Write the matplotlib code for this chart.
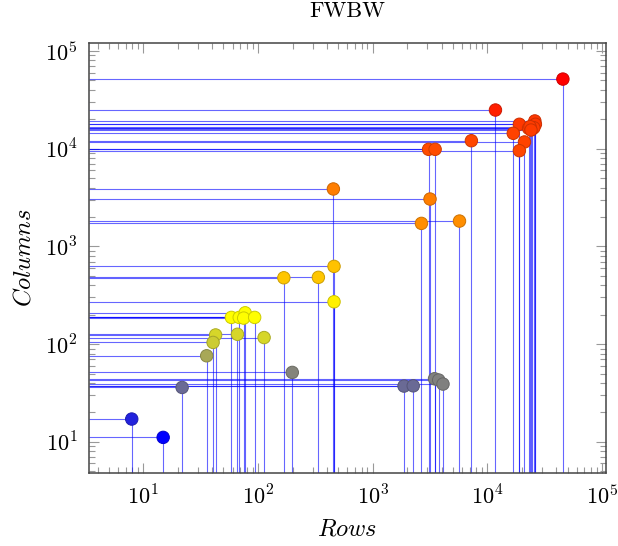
import numpy as np
import matplotlib
matplotlib.use("Agg")
import matplotlib.pyplot as plt
from matplotlib.colors import LinearSegmentedColormap

plt.rcParams['mathtext.fontset'] = 'cm'

# ---- data (rows, columns, color metric 0..1) ----
rows = [45500, 11750, 19000, 25900, 26200, 22850, 24550, 25400, 16800, 21040,
        23500, 24000, 7250, 3070, 3500, 19000, 454, 3160, 2660, 5710,
        460, 168, 336, 460, 58.6, 68.6, 77.3, 75, 93.5,
        42.7, 66.2, 113, 40.6, 35.7, 199, 21.8, 1875, 2255,
        3460, 3760, 4100, 7.93, 14.9]
cols = [51500, 24840, 17750, 19200, 17750, 16150, 15880, 16370, 14350, 11700,
        16800, 15500, 12050, 9840, 9840, 9530, 3865, 3050, 1718, 1815,
        624, 477, 482, 271, 187.5, 187.5, 209, 184.5, 187.5,
        124, 126, 116.6, 104, 75.9, 51.3, 36, 37.2, 37.4,
        44.2, 42.9, 39.0, 17.1, 11.1]
meta = [1.00, 0.94, 0.89, 0.89, 0.89, 0.88, 0.88, 0.88, 0.87, 0.87,
        0.88, 0.88, 0.86, 0.85, 0.85, 0.86, 0.75, 0.75, 0.72, 0.72,
        0.62, 0.61, 0.61, 0.53, 0.50, 0.50, 0.50, 0.50, 0.50,
        0.42, 0.42, 0.42, 0.40, 0.33, 0.26, 0.21, 0.21, 0.21,
        0.25, 0.25, 0.25, 0.07, 0.00]

title = "FWBW"
xlabel = "$Rows$"
ylabel = "$Columns$"
tick_vals = [1e1, 1e2, 1e3, 1e4, 1e5]
tick_labels = ["$10^{1}$", "$10^{2}$", "$10^{3}$", "$10^{4}$", "$10^{5}$"]

cmap = LinearSegmentedColormap.from_list("byr", [(0, 0, 1), (1, 1, 0), (1, 0, 0)])

fig = plt.figure(figsize=(6.18, 5.46), dpi=100)
ax = fig.add_axes([0.1434, 0.1333, 0.8372, 0.7875])
ax.set_xscale('log')
ax.set_yscale('log')

lx = np.log10(rows)
ly = np.log10(cols)
mx = 0.1 * (lx.max() - lx.min())
my = 0.1 * (ly.max() - ly.min())
xlo, xhi = 10 ** (lx.min() - mx), 10 ** (lx.max() + mx)
ylo, yhi = 10 ** (ly.min() - my), 10 ** (ly.max() + my)
ax.set_xlim(xlo, xhi)
ax.set_ylim(ylo, yhi)

ax.hlines(cols, xlo, rows, colors='#0000ff', linewidth=0.8, alpha=0.6, zorder=2)
ax.vlines(rows, ylo, cols, colors='#0000ff', linewidth=0.8, alpha=0.6, zorder=2)

fc = cmap(np.array(meta))
ec = fc.copy()
ec[:, :3] *= 0.8
ax.scatter(rows, cols, s=80, c=fc, edgecolors=ec, linewidths=0.7, zorder=3)

ax.set_xticks(tick_vals)
ax.set_xticklabels(tick_labels, fontsize=16)
ax.set_yticks(tick_vals)
ax.set_yticklabels(tick_labels, fontsize=16)
ax.set_xlim(xlo, xhi)
ax.set_ylim(ylo, yhi)

ax.tick_params(which='both', direction='in', top=True, right=True,
               color='#999999', width=0.8)
ax.tick_params(which='major', length=7, pad=8)
ax.tick_params(which='minor', length=4.5)
for sp in ax.spines.values():
    sp.set_color('#444444')
    sp.set_linewidth(1.1)

ax.set_xlabel(xlabel, fontsize=17.5, labelpad=6)
ax.set_ylabel(ylabel, fontsize=17.5, labelpad=7)
fig.text(0.5624, 1 - 17 / 546, title, ha='center', va='baseline',
         fontsize=16, family='cmr10')

fig.savefig("out.png", dpi=100)
